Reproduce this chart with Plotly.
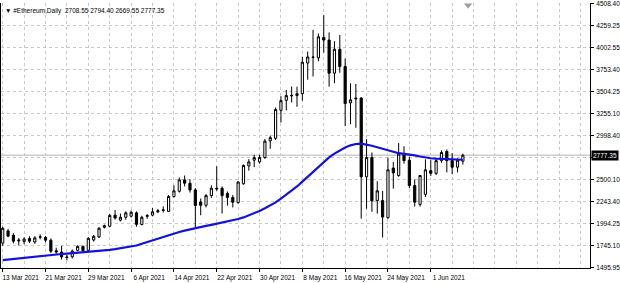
import plotly.graph_objects as go
import pandas as pd

# ---- data ----
dates = pd.date_range("2021-03-13", periods=87, freq="D")

opens = [1772, 1912, 1862, 1797, 1792, 1825, 1785, 1840, 1838, 1806,
         1685, 1670, 1615, 1616, 1690, 1735, 1690, 1808, 1843, 1953,
         1965, 2092, 2035, 2068, 2080, 2118, 1985, 2078, 2092, 2130,
         2145, 2135, 2305, 2365, 2495, 2457, 2380, 2242, 2205, 2315,
         2400, 2400, 2340, 2295, 2235, 2450, 2655, 2720, 2700, 2750,
         2940, 2970, 3290, 3405, 3455, 3458, 3480, 3830, 3895, 3890,
         4123, 4093, 3715, 3988, 3790, 3375, 3420, 3430, 2530, 2750,
         2258, 2258, 2063, 2630, 2545, 2790, 2720, 2430, 2215, 2330,
         2600, 2570, 2715, 2820, 2715, 2640, 2708.55]
highs = [1960, 1935, 1885, 1830, 1838, 1850, 1852, 1872, 1852, 1825,
         1720, 1740, 1640, 1700, 1748, 1745, 1840, 1865, 1955, 1985,
         2105, 2152, 2110, 2135, 2145, 2135, 2085, 2105, 2172, 2162,
         2192, 2322, 2432, 2522, 2545, 2502, 2402, 2282, 2332, 2432,
         2650, 2420, 2362, 2322, 2482, 2672, 2732, 2782, 2782, 2962,
         3002, 3322, 3452, 3522, 3562, 3560, 3902, 3962, 4210, 4168,
         4377, 4180, 4080, 4150, 3880, 3600, 3590, 3442, 2960, 2808,
         2480, 2370, 2750, 2700, 2915, 2880, 2762, 2500, 2550, 2730,
         2720, 2732, 2832, 2842, 2800, 2742, 2794.40]
lows = [1740, 1840, 1770, 1745, 1760, 1772, 1765, 1815, 1780, 1660,
        1650, 1585, 1575, 1598, 1680, 1668, 1680, 1790, 1830, 1940,
        1955, 2040, 2020, 2040, 2065, 1960, 1975, 2050, 2078, 2115,
        2122, 2128, 2290, 2350, 2420, 2350, 1957, 2090, 2180, 2290,
        2370, 2110, 2200, 2180, 2225, 2440, 2600, 2640, 2680, 2735,
        2850, 2950, 3150, 3290, 3380, 3330, 3400, 3640, 3677, 3850,
        3950, 3560, 3600, 3720, 3110, 3130, 3090, 2052, 2165, 2130,
        2110, 1836, 2050, 2395, 2530, 2680, 2400, 2190, 2190, 2300,
        2540, 2550, 2690, 2580, 2560, 2580, 2669.55]
closes = [1942, 1852, 1795, 1806, 1818, 1795, 1832, 1844, 1806, 1680,
          1672, 1615, 1608, 1682, 1735, 1688, 1827, 1850, 1942, 1972,
          2089, 2060, 2068, 2118, 2125, 1987, 2068, 2088, 2130, 2142,
          2152, 2305, 2370, 2495, 2457, 2380, 2203, 2205, 2315, 2400,
          2392, 2315, 2295, 2240, 2470, 2660, 2700, 2750, 2752, 2938,
          2978, 3300, 3400, 3458, 3460, 3480, 3840, 3900, 3898, 4130,
          4093, 3715, 3988, 3790, 3367, 3410, 3428, 2530, 2750, 2255,
          2370, 2070, 2610, 2575, 2790, 2715, 2430, 2240, 2545, 2610,
          2570, 2715, 2808, 2715, 2640, 2720, 2777.35]
moving_avg = [1578, 1585, 1592, 1599, 1606, 1613, 1619, 1625, 1631, 1637,
              1643, 1648, 1653, 1658, 1662, 1666, 1670, 1674, 1680, 1687,
              1695, 1703, 1712, 1722, 1733, 1745, 1765, 1785, 1805, 1825,
              1845, 1865, 1885, 1900, 1915, 1930, 1945, 1957, 1969, 1981,
              1993, 2005, 2018, 2032, 2048, 2066, 2088, 2112, 2140, 2170,
              2203, 2238, 2282, 2325, 2370, 2420, 2475, 2530, 2590, 2650,
              2705, 2752, 2795, 2835, 2865, 2890, 2905, 2910, 2900, 2885,
              2868, 2850, 2830, 2812, 2800, 2792, 2785, 2775, 2762, 2750,
              2742, 2737, 2733, 2730, 2727, 2724, 2725]

price_ticks = [4508.40, 4259.25, 4002.55, 3753.40, 3504.25, 3255.10, 2998.40,
               2749.25, 2500.10, 2243.40, 1994.25, 1745.10, 1495.95]
# the 2749.25 label is covered by the current-price box in the reference
price_labels = ["4508.40", "4259.25", "4002.55", "3753.40", "3504.25", "3255.10",
                "2998.40", "", "2500.10", "2243.40", "1994.25", "1745.10", "1495.95"]
date_ticks = ["2021-03-13", "2021-03-21", "2021-03-29", "2021-04-06",
              "2021-04-14", "2021-04-22", "2021-04-30", "2021-05-08",
              "2021-05-16", "2021-05-24", "2021-06-01"]
date_labels = ["13 Mar 2021", "21 Mar 2021", "29 Mar 2021", "6 Apr 2021",
               "14 Apr 2021", "22 Apr 2021", "30 Apr 2021", "8 May 2021",
               "16 May 2021", "24 May 2021", "1 Jun 2021"]
title_text = "▼ #Ethereum,Daily  2708.55 2794.40 2669.55 2777.35"

FONT = "Liberation Sans, Arial, sans-serif"
GRID = "#c8c8c8"

fig = go.Figure()
fig.add_trace(go.Candlestick(
    x=dates, open=opens, high=highs, low=lows, close=closes,
    increasing=dict(fillcolor="white", line=dict(color="black", width=1)),
    decreasing=dict(fillcolor="black", line=dict(color="black", width=1)),
    whiskerwidth=0, showlegend=False, hoverinfo="skip",
))
fig.add_trace(go.Scatter(
    x=dates, y=moving_avg, mode="lines",
    line=dict(color="#1212dc", width=2.2), showlegend=False, hoverinfo="skip",
))

x_start = pd.Timestamp("2021-03-13") - pd.Timedelta(hours=7.7)
x_end = pd.Timestamp("2021-03-13") + pd.Timedelta(days=109.76)

fig.update_layout(
    width=620, height=283,
    margin=dict(l=0, r=30, t=1, b=15),
    paper_bgcolor="white", plot_bgcolor="white",
    font=dict(family=FONT, size=6.5, color="black"),
    boxgap=0.42,
    xaxis=dict(
        type="date", range=[x_start, x_end],
        rangeslider=dict(visible=False),
        tickvals=date_ticks, ticktext=date_labels,
        ticks="outside", ticklen=3, tickcolor="black",
        ticklabelshift=18, ticklabelstandoff=0,
        showgrid=True, gridcolor=GRID, griddash="dot", gridwidth=1,
        minor=dict(dtick=4 * 86400000, tick0="2021-03-13",
                   showgrid=True, gridcolor=GRID, griddash="dot", gridwidth=1),
        showline=True, linecolor="black", linewidth=1, mirror=False,
        zeroline=False, tickfont=dict(size=6.5, family=FONT),
        ticklabeloverflow="allow",
    ),
    yaxis=dict(
        side="right", range=[1488.0, 4516.4],
        tickvals=price_ticks, ticktext=price_labels,
        ticks="outside", ticklen=3, tickcolor="black",
        showgrid=True, gridcolor=GRID, griddash="dot", gridwidth=1,
        showline=True, linecolor="black", linewidth=1, mirror=True,
        zeroline=False, tickfont=dict(size=6.5, family=FONT),
        ticklabelstandoff=1, ticklabeloverflow="allow",
    ),
)

# bid line
fig.add_shape(type="line", xref="paper", x0=0, x1=1, yref="y",
              y0=closes[-1], y1=closes[-1],
              line=dict(color="#b4b4b4", width=1), layer="below")

# chart-shift marker at the top
fig.add_shape(type="path", xref="paper", yref="paper",
              path="M 0.786 0.998 L 0.800 0.998 L 0.793 0.978 Z",
              fillcolor="#a0a0a0", line=dict(width=0))

# current price label
fig.add_annotation(xref="paper", x=1, xanchor="left", xshift=1,
                   yref="y", y=closes[-1], yanchor="middle",
                   text=f"{closes[-1]:.2f}", showarrow=False,
                   bgcolor="black", font=dict(color="white", size=6.5, family=FONT),
                   borderpad=1)

# header text
fig.add_annotation(xref="paper", x=0, xanchor="left", xshift=2,
                   yref="paper", y=1, yanchor="top", yshift=-2,
                   text=title_text, showarrow=False,
                   font=dict(color="black", size=6.5, family=FONT))

fig.write_html("out.html")
